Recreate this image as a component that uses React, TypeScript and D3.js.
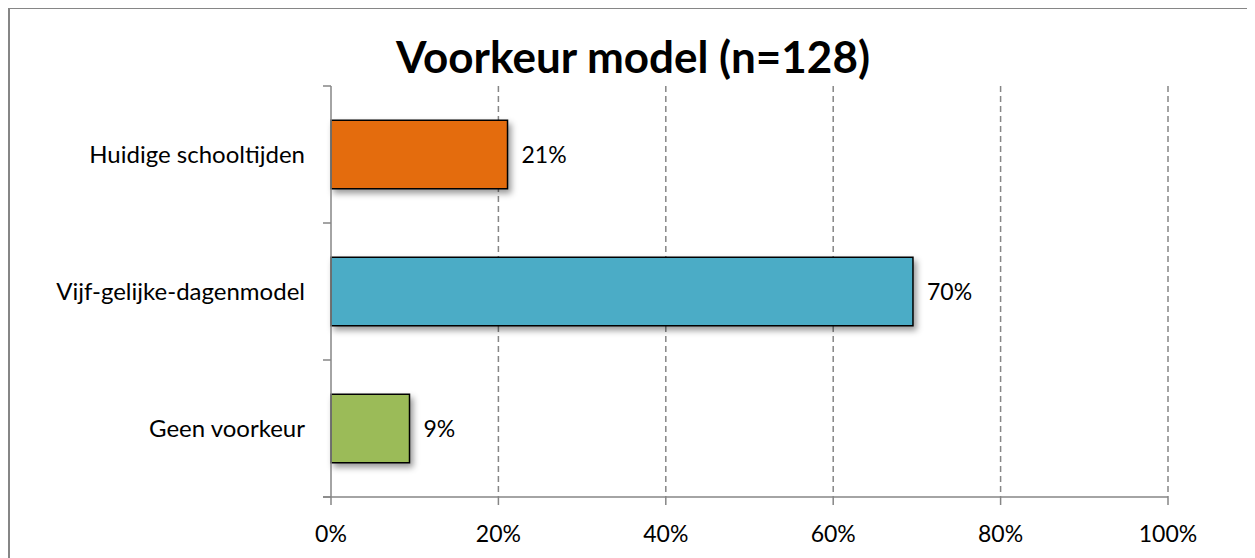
import * as d3 from "d3";

const categories = ["Huidige schooltijden", "Vijf-gelijke-dagenmodel", "Geen voorkeur"];
const values = [21.09, 69.53, 9.38];
const valueLabels = ["21%", "70%", "9%"];
const barColors = ["#E46C0A", "#4BACC6", "#9BBB59"];
const xTicks = [0, 20, 40, 60, 80, 100];
const title = "Voorkeur model (n=128)";

const App = () => {
  const chartWidth = 1247;
  const chartHeight = 550;
  const margin = { top: 78, right: 87, bottom: 61, left: 323 };
  const width = chartWidth - margin.left - margin.right;
  const height = chartHeight - margin.top - margin.bottom;

  const xScale = d3.scaleLinear().domain([0, 100]).range([0, width]);
  const yScale = d3
    .scaleBand()
    .domain(categories)
    .range([0, height])
    .paddingInner(0.5)
    .paddingOuter(0.25);

  const step = yScale.step();
  const boundaries = d3.range(categories.length + 1).map((i) => i * step);
  const font = "Lato, 'Open Sans', sans-serif";
  const axisColor = "#868686";
  const labelSize = 23;

  return (
    <svg width={chartWidth} height={chartHeight} style={{ display: "block" }}>
      <defs>
        <filter id="shadow" x="-10%" y="-20%" width="130%" height="170%">
          <feDropShadow dx="3" dy="4" stdDeviation="3" floodColor="#000" floodOpacity="0.4" />
        </filter>
      </defs>
      {/* chart border */}
      <line x1={1} y1={0} x2={1} y2={chartHeight} stroke={axisColor} strokeWidth={2} />
      <line x1={0} y1={0.5} x2={chartWidth} y2={0.5} stroke={axisColor} strokeWidth={1} />

      <text
        x={625}
        y={65}
        textAnchor="middle"
        fontFamily={font}
        fontWeight="bold"
        fontSize={44}
        fill="#000"
      >
        {title}
      </text>

      <g transform={`translate(${margin.left},${margin.top})`}>
        {/* grid */}
        {xTicks.slice(1).map((t) => (
          <line
            key={"g" + t}
            x1={xScale(t)}
            x2={xScale(t)}
            y1={0}
            y2={height}
            stroke={axisColor}
            strokeWidth={1.5}
            strokeDasharray="6,4"
          />
        ))}

        {/* bars */}
        {categories.map((c, i) => (
          <g key={c}>
            <rect
              x={0}
              y={yScale(c)}
              width={xScale(values[i])}
              height={yScale.bandwidth()}
              fill={barColors[i]}
              stroke="#000"
              strokeWidth={1.5}
              filter="url(#shadow)"
            />
            <text
              x={xScale(values[i]) + 14}
              y={(yScale(c) ?? 0) + yScale.bandwidth() / 2}
              dy="0.35em"
              fontFamily={font}
              fontSize={labelSize}
              fill="#000"
            >
              {valueLabels[i]}
            </text>
            <text
              x={-26}
              y={(yScale(c) ?? 0) + yScale.bandwidth() / 2}
              dy="0.35em"
              textAnchor="end"
              fontFamily={font}
              fontSize={24}
              fill="#000"
            >
              {c}
            </text>
          </g>
        ))}

        {/* y axis */}
        <line x1={0} x2={0} y1={0} y2={height} stroke={axisColor} strokeWidth={1.5} />
        {boundaries.map((b) => (
          <line key={"yt" + b} x1={-8} x2={0} y1={b} y2={b} stroke={axisColor} strokeWidth={1.5} />
        ))}

        {/* x axis */}
        <line x1={-8} x2={width} y1={height} y2={height} stroke={axisColor} strokeWidth={1.5} />
        {xTicks.map((t) => (
          <g key={"xt" + t}>
            <line x1={xScale(t)} x2={xScale(t)} y1={height} y2={height + 8} stroke={axisColor} strokeWidth={1.5} />
            <text
              x={xScale(t)}
              y={height + 45}
              textAnchor="middle"
              fontFamily={font}
              fontSize={labelSize}
              fill="#000"
            >
              {t + "%"}
            </text>
          </g>
        ))}
      </g>
    </svg>
  );
};

export default App;
